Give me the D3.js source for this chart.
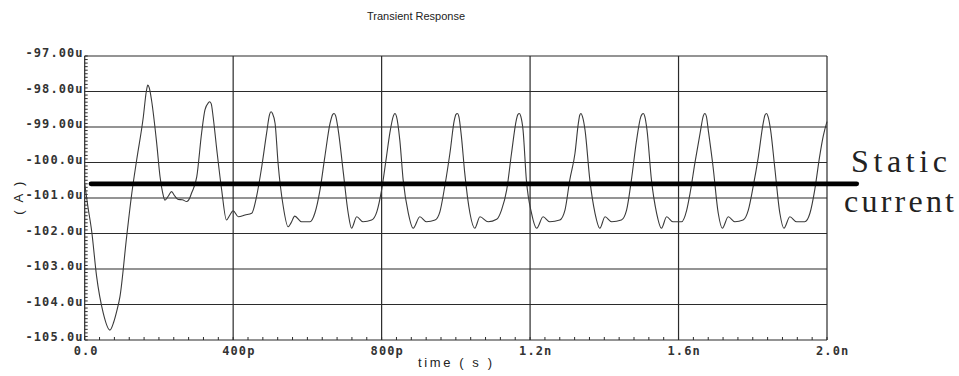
<!DOCTYPE html>
<html>
<head>
<meta charset="utf-8">
<script src="https://cdn.jsdelivr.net/npm/d3@7"></script>
<style>
  body { margin: 0; background: #fff; }
  svg { display: block; }
</style>
</head>
<body>
<script>
// axis ticks
var yTicks = [-97, -98, -99, -100, -101, -102, -103, -104, -105];
var yTickLabels = ["-97.00u", "-98.00u", "-99.00u", "-100.0u", "-101.0u", "-102.0u", "-103.0u", "-104.0u", "-105.0u"];
var xTicks = [0, 400, 800, 1200, 1600, 2000];
var xTickLabels = ["0.0", "400p", "800p", "1.2n", "1.6n", "2.0n"];

// transient current, time in ps, current in uA
var timePs = [0, 8, 19, 32, 50, 68, 78, 86, 95, 113, 127, 140, 158, 166, 170, 174, 180, 194, 203, 210,
  216, 225, 234, 243, 252, 263, 275, 283, 288, 302, 315, 324, 333, 337, 341, 346, 356, 369, 382, 390,
  400, 414, 432, 450, 463, 477, 490, 498, 502, 506, 513, 521, 535, 548, 556, 566, 584, 607, 620, 634,
  647, 661, 668, 672, 676, 683, 697, 710, 719, 733, 750, 773, 787, 800, 813, 822, 832, 836, 840, 849,
  858, 872, 885, 903, 921, 944, 957, 970, 984, 996, 1000, 1004, 1008, 1015, 1024, 1038, 1051, 1065, 1087, 1110,
  1123, 1137, 1150, 1163, 1167, 1171, 1175, 1181, 1190, 1204, 1218, 1235, 1253, 1280, 1294, 1307, 1321, 1330, 1334, 1337,
  1341, 1348, 1361, 1375, 1388, 1402, 1420, 1446, 1460, 1473, 1487, 1498, 1502, 1505, 1509, 1515, 1527, 1541, 1554, 1568,
  1585, 1608, 1622, 1631, 1644, 1658, 1667, 1671, 1675, 1680, 1693, 1707, 1718, 1734, 1752, 1774, 1788, 1801, 1815, 1828,
  1833, 1837, 1841, 1848, 1859, 1873, 1884, 1900, 1918, 1940, 1954, 1967, 1980, 1990, 2000];
var currentUA = [-100.6, -101.2, -101.95, -103.2, -104.24, -104.72, -104.5, -104.2, -103.78, -102.09, -100.86, -99.93, -98.71, -98.0, -97.82, -97.9, -98.24, -99.46, -100.4, -100.85,
  -101.06, -100.95, -100.82, -100.95, -101.04, -101.05, -101.1, -101.0, -100.86, -100.4, -99.17, -98.52, -98.32, -98.29, -98.35, -98.71, -99.65, -100.77, -101.62, -101.5,
  -101.36, -101.53, -101.48, -101.43, -100.96, -100.12, -99.18, -98.65, -98.57, -98.62, -98.9, -100.02, -101.24, -101.81, -101.7, -101.51, -101.67, -101.67, -101.43, -100.77,
  -99.84, -98.9, -98.65, -98.62, -98.68, -99.08, -100.3, -101.43, -101.85, -101.53, -101.67, -101.62, -101.39, -100.77, -99.84, -99.18, -98.68, -98.62, -98.7, -99.37,
  -100.49, -101.43, -101.85, -101.53, -101.67, -101.62, -101.39, -100.68, -99.74, -98.8, -98.65, -98.62, -98.7, -99.27, -100.3, -101.43, -101.85, -101.53, -101.67, -101.6,
  -101.34, -100.77, -99.74, -98.8, -98.65, -98.62, -98.7, -99.08, -100.49, -101.43, -101.85, -101.53, -101.67, -101.62, -101.34, -100.49, -99.74, -98.9, -98.66, -98.62,
  -98.7, -99.08, -100.49, -101.43, -101.85, -101.53, -101.67, -101.62, -101.34, -100.49, -99.37, -98.72, -98.64, -98.62, -98.7, -99.08, -100.49, -101.43, -101.85, -101.53,
  -101.67, -101.67, -101.34, -100.87, -100.02, -99.18, -98.68, -98.62, -98.7, -99.08, -100.12, -101.43, -101.85, -101.53, -101.67, -101.62, -101.34, -100.68, -99.84, -98.9,
  -98.66, -98.62, -98.7, -99.08, -100.12, -101.43, -101.85, -101.53, -101.67, -101.67, -101.43, -100.77, -99.84, -99.25, -98.85];

// the hand-drawn static current line
var staticCurrent = -100.6;
var staticSpan = [17, 2080];
var staticLabel = ["Static", "current"];

function drawChart() {
  var width = 959, height = 376;
  var plotLeft = 84.7, plotRight = 827, plotTop = 56, plotBottom = 340;

  var svg = d3.select("body").append("svg")
      .attr("width", width)
      .attr("height", height);

  var x = d3.scaleLinear().domain([0, 2000]).range([plotLeft, plotRight]);
  var y = d3.scaleLinear().domain([-97, -105]).range([plotTop, plotBottom]);

  var gridColor = "#2b2b2b";
  var mono = "'DejaVu Sans Mono', monospace";

  // grid
  svg.append("g").selectAll("line").data(yTicks).enter().append("line")
      .attr("x1", plotLeft).attr("x2", plotRight)
      .attr("y1", function(d) { return y(d); })
      .attr("y2", function(d) { return y(d); })
      .attr("stroke", gridColor).attr("stroke-width", 1.2);
  svg.append("g").selectAll("line").data(xTicks).enter().append("line")
      .attr("y1", plotTop).attr("y2", plotBottom)
      .attr("x1", function(d) { return x(d); })
      .attr("x2", function(d) { return x(d); })
      .attr("stroke", gridColor).attr("stroke-width", 1.2);

  // minor ticks
  svg.append("g").selectAll("line").data(d3.range(0, 2001, 40)).enter().append("line")
      .attr("x1", function(d) { return x(d); })
      .attr("x2", function(d) { return x(d); })
      .attr("y1", plotBottom).attr("y2", plotBottom - 3)
      .attr("stroke", gridColor).attr("stroke-width", 1);
  svg.append("g").selectAll("line").data(d3.range(0, 81)).enter().append("line")
      .attr("y1", function(d) { return y(-97 - d / 10); })
      .attr("y2", function(d) { return y(-97 - d / 10); })
      .attr("x1", plotLeft).attr("x2", plotLeft + 3)
      .attr("stroke", gridColor).attr("stroke-width", 1);

  // tick labels
  svg.append("g").selectAll("text").data(yTicks).enter().append("text")
      .attr("x", plotLeft - 1)
      .attr("y", function(d) { return y(d) + 1; })
      .attr("text-anchor", "end")
      .attr("font-family", mono).attr("font-size", 12).attr("font-weight", "bold")
      .attr("letter-spacing", 1.1)
      .attr("fill", "#333")
      .text(function(d, i) { return yTickLabels[i]; });
  svg.append("g").selectAll("text").data(xTicks).enter().append("text")
      .attr("x", function(d) { return x(d) - 11; })
      .attr("y", plotBottom + 15)
      .attr("font-family", mono).attr("font-size", 12).attr("font-weight", "bold")
      .attr("letter-spacing", 1.1)
      .attr("fill", "#333")
      .text(function(d, i) { return xTickLabels[i]; });

  // titles
  svg.append("text").attr("x", 367).attr("y", 20)
      .attr("font-family", "'Liberation Sans', sans-serif").attr("font-size", 11)
      .attr("fill", "#222")
      .text("Transient Response");
  svg.append("text").attr("x", 418).attr("y", 367)
      .attr("font-family", "'Liberation Sans', sans-serif").attr("font-size", 13)
      .attr("textLength", 74).attr("lengthAdjust", "spacing")
      .attr("fill", "#222")
      .text("time ( s )");
  svg.append("text")
      .attr("transform", "translate(23,197) rotate(-90)")
      .attr("text-anchor", "middle")
      .attr("font-family", "'Liberation Sans', sans-serif").attr("font-size", 13)
      .attr("letter-spacing", 2.5)
      .attr("fill", "#222")
      .text("( A )");

  // waveform
  var line = d3.line()
      .x(function(d, i) { return x(timePs[i]); })
      .y(function(d) { return y(d); })
      .curve(d3.curveMonotoneX);
  svg.append("path")
      .attr("d", line(currentUA))
      .attr("fill", "none")
      .attr("stroke", "#3a3a3a")
      .attr("stroke-width", 1.1);

  // static current marker
  svg.append("line")
      .attr("x1", x(staticSpan[0])).attr("x2", x(staticSpan[1]))
      .attr("y1", y(staticCurrent)).attr("y2", y(staticCurrent))
      .attr("stroke", "#000").attr("stroke-width", 4.8)
      .attr("stroke-linecap", "round");
  svg.append("text").attr("x", 851).attr("y", 172)
      .attr("font-family", "'Liberation Serif', serif").attr("font-size", 32)
      .attr("textLength", 96).attr("lengthAdjust", "spacing")
      .attr("fill", "#222")
      .text(staticLabel[0]);
  svg.append("text").attr("x", 844).attr("y", 212)
      .attr("font-family", "'Liberation Serif', serif").attr("font-size", 32)
      .attr("textLength", 110).attr("lengthAdjust", "spacing")
      .attr("fill", "#222")
      .text(staticLabel[1]);
}

drawChart();
</script>
</body>
</html>
